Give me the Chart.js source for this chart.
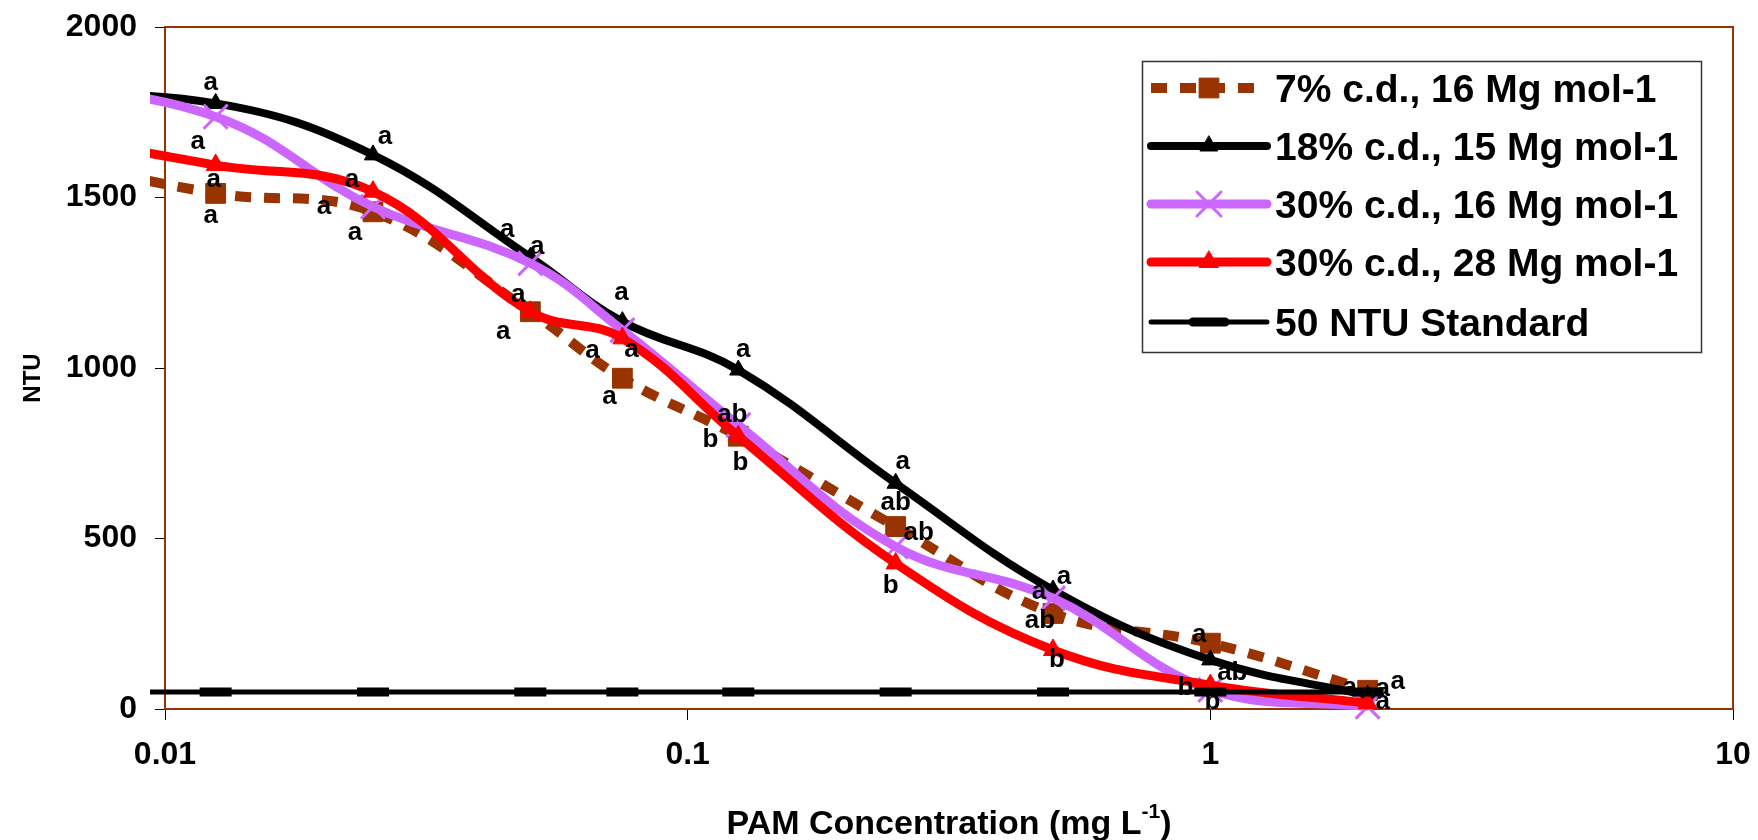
<!DOCTYPE html>
<html>
<head>
<meta charset="utf-8">
<title>PAM turbidity</title>
<script src="https://cdn.jsdelivr.net/npm/chart.js@4.4.1/dist/chart.umd.min.js"></script>
<style>
  html, body { margin: 0; padding: 0; background: #fff; }
</style>
</head>
<body>
<canvas id="ntuChart" width="1758" height="840"></canvas>
<script>
// PAM doses, mg/L. The first one lies left of the axis minimum: only the
// clipped stub of each line shows, like in the original spreadsheet plot.
const pamDoses = [0.005, 0.0125, 0.025, 0.05, 0.075, 0.125, 0.25, 0.5, 1, 2];

const ntu7cd16  = [1639, 1512, 1458, 1165, 970, 800, 535, 280, 193, 55];
const ntu18cd15 = [1805, 1776, 1625, 1325, 1136, 994, 662, 349, 144, 40];
const ntu30cd16 = [1845, 1737, 1473, 1307, 1111, 833, 476, 325, 56, 7];
const ntu30cd28 = [1705, 1595, 1517, 1165, 1087, 800, 427, 173, 70, 17];
const ntuStandard = [50, 50, 50, 50, 50, 50, 50, 50, 50, 50];

const seriesNames = [
  "7% c.d., 16 Mg mol-1",
  "18% c.d., 15 Mg mol-1",
  "30% c.d., 16 Mg mol-1",
  "30% c.d., 28 Mg mol-1",
  "50 NTU Standard"
];

// mean separation letters
const letters7cd16  = ["", "a", "a", "a", "a", "b", "ab", "ab", "a", "a"];
const letters18cd15 = ["", "a", "a", "a", "a", "a", "a", "a", "ab", "a"];
const letters30cd16 = ["", "a", "a", "a", "a", "ab", "ab", "a", "b", "a"];
const letters30cd28 = ["", "a", "a", "a", "a", "b", "b", "b", "b", "a"];

const yTicks = [0, 500, 1000, 1500, 2000];
const xTicks = [0.01, 0.1, 1, 10];

// where each letter sits relative to its marker (px)
const letterShift = [
  [[0,0],[-5,22],[-49,-5],[-27,20],[-13,19],[-28,4],[0,-24],[-13,7],[-11,-8],[30,-8]],
  [[0,0],[-5,-21],[12,-18],[-23,-27],[-1,-29],[5,-20],[7,-21],[11,-13],[22,13],[15,-7]],
  [[0,0],[-18,25],[-18,26],[7,-16],[9,20],[-6,-10],[23,-14],[-14,-6],[2,12],[15,-5]],
  [[0,0],[-2,15],[-21,-12],[-12,-17],[-30,12],[2,27],[-5,22],[4,10],[-25,3],[-18,-15]]
];
const seriesLetters = [letters7cd16, letters18cd15, letters30cd16, letters30cd28];

const FONT = "'Liberation Sans', Arial, sans-serif";
const BROWN = "#993300";

const toPoints = vals => vals.map((v, i) => ({ x: pamDoses[i], y: v }));
const hideFirst = r => ctx => (ctx.dataIndex === 0 ? 0 : r);
const lineClip = { left: 15, top: 0, right: 0, bottom: 12 };

const datasets = [
  {
    label: seriesNames[0], data: toPoints(ntu7cd16), order: 5,
    borderColor: BROWN, backgroundColor: BROWN, borderWidth: 10, borderDash: [16, 13],
    pointStyle: "rect", pointRadius: hideFirst(14), pointBorderWidth: 1,
    pointBackgroundColor: BROWN, pointBorderColor: BROWN
  },
  {
    label: seriesNames[1], data: toPoints(ntu18cd15), order: 4,
    borderColor: "#000", backgroundColor: "#000", borderWidth: 8,
    pointStyle: "triangle", pointRadius: hideFirst(10), pointBorderWidth: 1,
    pointBackgroundColor: "#000", pointBorderColor: "#000"
  },
  {
    label: seriesNames[2], data: toPoints(ntu30cd16), order: 3,
    borderColor: "#cc66ff", backgroundColor: "#cc66ff", borderWidth: 9,
    pointStyle: "crossRot", pointRadius: hideFirst(17), pointBorderWidth: 3,
    pointBorderColor: "#cc66ff"
  },
  {
    label: seriesNames[3], data: toPoints(ntu30cd28), order: 2,
    borderColor: "#ff0000", backgroundColor: "#ff0000", borderWidth: 9,
    pointStyle: "triangle", pointRadius: hideFirst(11), pointBorderWidth: 1,
    pointBackgroundColor: "#ff0000", pointBorderColor: "#ff0000"
  },
  {
    label: seriesNames[4], data: toPoints(ntuStandard), order: 1,
    borderColor: "#000", backgroundColor: "#000", borderWidth: 5, tension: 0,
    pointStyle: "line", pointRadius: hideFirst(16), pointBorderWidth: 9,
    pointBorderColor: "#000"
  }
];
datasets.forEach(d => { d.clip = lineClip; if (d.tension === undefined) d.tension = 0.4; });

// plot frame, axis titles, letters and the boxed legend
const decorations = {
  id: "decorations",
  beforeDatasetsDraw(chart) {
    const { ctx, chartArea: a } = chart;
    ctx.save();
    ctx.strokeStyle = BROWN;
    ctx.lineWidth = 2;
    ctx.beginPath();
    ctx.moveTo(a.left, a.top);
    ctx.lineTo(a.right, a.top);
    ctx.lineTo(a.right, a.bottom);
    ctx.stroke();
    ctx.restore();
  },
  afterDatasetsDraw(chart) {
    const { ctx, chartArea: a } = chart;
    ctx.save();

    // letters
    ctx.fillStyle = "#000";
    ctx.font = "bold 26px " + FONT;
    ctx.textAlign = "center";
    ctx.textBaseline = "middle";
    seriesLetters.forEach((letters, s) => {
      const meta = chart.getDatasetMeta(s);
      letters.forEach((txt, i) => {
        if (!txt) return;
        const p = meta.data[i];
        const [dx, dy] = letterShift[s][i];
        ctx.fillText(txt, p.x + dx, p.y + dy);
      });
    });

    // y title
    ctx.save();
    ctx.translate(33, 378);
    ctx.rotate(-Math.PI / 2);
    ctx.font = "bold 24px " + FONT;
    ctx.fillText("NTU", 0, 0);
    ctx.restore();

    // x title with superscript
    const main = "PAM Concentration (mg L";
    ctx.font = "bold 34px " + FONT;
    const w1 = ctx.measureText(main).width;
    ctx.font = "bold 21px " + FONT;
    const w2 = ctx.measureText("-1").width;
    ctx.font = "bold 34px " + FONT;
    const w3 = ctx.measureText(")").width;
    let x0 = (a.left + a.right) / 2 - (w1 + w2 + w3) / 2;
    const yT = 825;
    ctx.textAlign = "left";
    ctx.fillText(main, x0, yT);
    ctx.font = "bold 21px " + FONT;
    ctx.fillText("-1", x0 + w1, yT - 13);
    ctx.font = "bold 34px " + FONT;
    ctx.fillText(")", x0 + w1 + w2, yT);

    // legend
    const box = { x: 1142, y: 61, w: 559, h: 291 };
    ctx.fillStyle = "#fff";
    ctx.fillRect(box.x, box.y, box.w, box.h);
    ctx.strokeStyle = "#333";
    ctx.lineWidth = 1.5;
    ctx.strokeRect(box.x + 0.5, box.y + 0.5, box.w, box.h);
    const rowY = [88, 146, 204, 262, 322];
    chart.data.datasets.forEach((d, i) => {
      const y = rowY[i];
      ctx.save();
      ctx.strokeStyle = d.borderColor;
      ctx.lineWidth = d.borderWidth;
      ctx.lineCap = d.borderDash ? "butt" : "round";
      ctx.setLineDash(d.borderDash || []);
      ctx.beginPath();
      ctx.moveTo(1151, y);
      ctx.lineTo(1267, y);
      ctx.stroke();
      ctx.setLineDash([]);
      ctx.fillStyle = d.pointBackgroundColor || d.borderColor;
      ctx.strokeStyle = d.pointBorderColor;
      ctx.lineWidth = d.pointBorderWidth;
      Chart.helpers.drawPoint(ctx, {
        pointStyle: d.pointStyle, rotation: 0,
        radius: d.pointRadius({ dataIndex: 1 }), borderWidth: d.pointBorderWidth
      }, 1209, y);
      ctx.restore();
      ctx.fillStyle = "#000";
      ctx.font = "bold 39px " + FONT;
      ctx.textAlign = "left";
      ctx.textBaseline = "middle";
      ctx.fillText(d.label, 1275, y + 3);
    });

    ctx.restore();
  }
};

new Chart(document.getElementById("ntuChart"), {
  type: "line",
  data: { datasets },
  options: {
    responsive: false,
    animation: false,
    events: [],
    layout: { padding: { left: 0, top: 27, right: 24, bottom: 0 } },
    plugins: { legend: { display: false }, tooltip: { enabled: false } },
    scales: {
      x: {
        type: "logarithmic",
        min: 0.01,
        max: 10,
        afterBuildTicks: scale => { scale.ticks = xTicks.map(v => ({ value: v })); },
        afterFit: scale => {
          scale.height = 131;
          scale.paddingLeft = 0;
          scale.paddingRight = 0;
        },
        ticks: {
          color: "#000",
          padding: 16,
          maxRotation: 0,
          autoSkip: false,
          font: { family: FONT, size: 32, weight: "bold" },
          callback: v => String(v)
        },
        grid: { drawOnChartArea: false, drawTicks: true, tickLength: 11, color: "#000" },
        border: { color: BROWN, width: 2 }
      },
      y: {
        min: 0,
        max: 2000,
        afterBuildTicks: scale => { scale.ticks = yTicks.map(v => ({ value: v })); },
        afterFit: scale => {
          scale.width = 165;
          scale.paddingTop = 0;
          scale.paddingBottom = 0;
        },
        ticks: {
          color: "#000",
          padding: 18,
          font: { family: FONT, size: 32, weight: "bold" },
          callback: v => String(v)
        },
        grid: { drawOnChartArea: false, drawTicks: true, tickLength: 10, color: "#000" },
        border: { color: BROWN, width: 2 }
      }
    }
  },
  plugins: [decorations]
});
</script>
</body>
</html>
